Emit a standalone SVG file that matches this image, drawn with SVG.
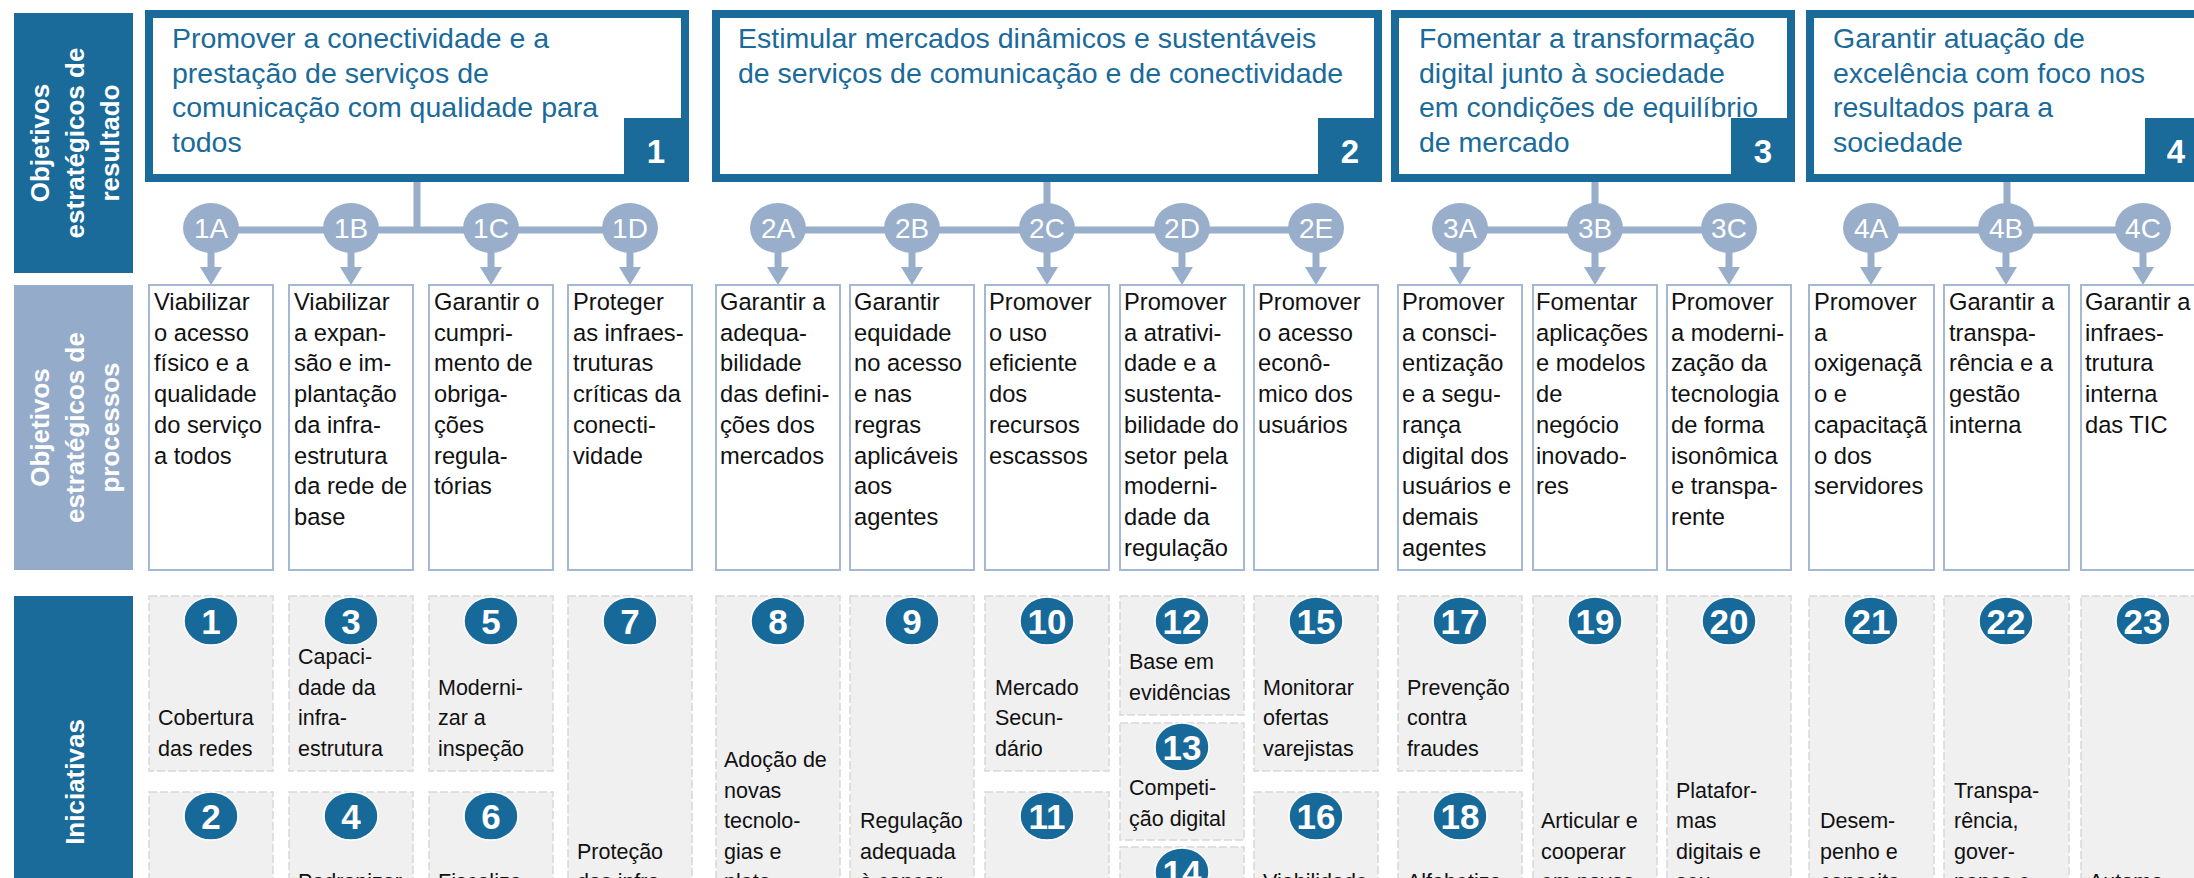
<svg xmlns="http://www.w3.org/2000/svg" width="2194" height="878" viewBox="0 0 2194 878">
<defs>
<style>
.hd{fill:#1A6A9A}
.hl{fill:#95ABCA}
.ht{font-family:"Liberation Sans",Arial,sans-serif;font-weight:bold;font-size:26px;fill:#fff;text-anchor:middle}
.tbox{fill:#fff;stroke:#1A6A9A;stroke-width:8}
.tab{fill:#1A6A9A}
.tt{font-family:"Liberation Sans",Arial,sans-serif;font-size:28.5px;fill:#1A6A9A}
.tn{font-family:"Liberation Sans",Arial,sans-serif;font-weight:bold;font-size:33px;fill:#fff;text-anchor:middle}
.oc{fill:#98AECB}
.ol{font-family:"Liberation Sans",Arial,sans-serif;font-size:28px;fill:#fff;text-anchor:middle}
.cn{stroke:#98AECB;stroke-width:7;fill:none}
.pb{fill:#fff;stroke:#A4B7D3;stroke-width:2}
.pt{font-family:"Liberation Sans",Arial,sans-serif;font-size:23.7px;fill:#111}
.ib{fill:#F0F0F0;stroke:#D8D8D8;stroke-width:1.5;stroke-dasharray:8 3}
.ic{fill:#17699A;stroke:#fff;stroke-width:1.5}
.in{font-family:"Liberation Sans",Arial,sans-serif;font-weight:bold;font-size:35px;fill:#fff;text-anchor:middle}
.it{font-family:"Liberation Sans",Arial,sans-serif;font-size:21.5px;fill:#111}
</style>
<marker id="ah" viewBox="0 0 18 22" markerWidth="18" markerHeight="22" refX="0" refY="11" orient="auto" markerUnits="userSpaceOnUse">
<path d="M0,0 L18,11 L0,22 z" fill="#98AECB"/>
</marker>
</defs>
<rect width="2194" height="878" fill="#fff"/>

<!-- Row headers -->
<g id="hdr-resultado">
<rect class="hd" x="14" y="13" width="119" height="260"/>
<text class="ht" transform="translate(73.5,143) rotate(-90)"><tspan x="0" y="-25">Objetivos</tspan><tspan x="0" y="10">estratégicos de</tspan><tspan x="0" y="45">resultado</tspan></text>
</g>
<g id="hdr-processos">
<rect class="hl" x="14" y="285" width="119" height="285"/>
<text class="ht" transform="translate(73.5,427.5) rotate(-90)"><tspan x="0" y="-25">Objetivos</tspan><tspan x="0" y="10">estratégicos de</tspan><tspan x="0" y="45">processos</tspan></text>
</g>
<g id="hdr-iniciativas">
<rect class="hd" x="14" y="596" width="119" height="380"/>
<text class="ht" transform="translate(73.5,782) rotate(-90)"><tspan x="0" y="10">Iniciativas</tspan></text>
</g>

<!-- Connectors -->
<g id="connectors">
<path class="cn" d="M417,182 V230 M211,230 H631"/>
<path class="cn" d="M1047,182 V230 M778,230 H1316"/>
<path class="cn" d="M1595,182 V230 M1460,230 H1729"/>
<path class="cn" d="M2007,182 V230 M1871,230 H2143"/>
<g class="cn" marker-end="url(#ah)">
<path d="M211,250 V267"/><path d="M351,250 V267"/><path d="M491,250 V267"/><path d="M630,250 V267"/>
<path d="M778,250 V267"/><path d="M912,250 V267"/><path d="M1047,250 V267"/><path d="M1182,250 V267"/><path d="M1316,250 V267"/>
<path d="M1460,250 V267"/><path d="M1595,250 V267"/><path d="M1729,250 V267"/>
<path d="M1871,250 V267"/><path d="M2006,250 V267"/><path d="M2143,250 V267"/>
</g>
</g>

<!-- Strategic result objectives -->
<g id="obj1">
<rect class="tbox" x="149" y="14" width="536" height="164"/>
<rect class="tab" x="624" y="118" width="65" height="64"/>
<text class="tt"><tspan x="172" y="48">Promover a conectividade e a</tspan><tspan x="172" y="82.5">prestação de serviços de</tspan><tspan x="172" y="117">comunicação com qualidade para</tspan><tspan x="172" y="151.5">todos</tspan></text>
<text class="tn" x="656" y="163">1</text>
</g>
<g id="obj2">
<rect class="tbox" x="716" y="14" width="662" height="164"/>
<rect class="tab" x="1318" y="118" width="64" height="64"/>
<text class="tt"><tspan x="738" y="48">Estimular mercados dinâmicos e sustentáveis</tspan><tspan x="738" y="82.5">de serviços de comunicação e de conectividade</tspan></text>
<text class="tn" x="1350" y="163">2</text>
</g>
<g id="obj3">
<rect class="tbox" x="1395" y="14" width="396" height="164"/>
<rect class="tab" x="1731" y="118" width="64" height="64"/>
<text class="tt"><tspan x="1419" y="48">Fomentar a transformação</tspan><tspan x="1419" y="82.5">digital junto à sociedade</tspan><tspan x="1419" y="117">em condições de equilíbrio</tspan><tspan x="1419" y="151.5">de mercado</tspan></text>
<text class="tn" x="1763" y="163">3</text>
</g>
<g id="obj4">
<rect class="tbox" x="1810" y="14" width="396" height="164"/>
<rect class="tab" x="2145" y="118" width="65" height="64"/>
<text class="tt"><tspan x="1833" y="48">Garantir atuação de</tspan><tspan x="1833" y="82.5">excelência com foco nos</tspan><tspan x="1833" y="117">resultados para a</tspan><tspan x="1833" y="151.5">sociedade</tspan></text>
<text class="tn" x="2176" y="163">4</text>
</g>

<!-- Sub-objective circles -->
<g id="c1A"><ellipse class="oc" cx="211" cy="228" rx="28" ry="25"/><text class="ol" x="211" y="238">1A</text></g>
<g id="c1B"><ellipse class="oc" cx="351" cy="228" rx="28" ry="25"/><text class="ol" x="351" y="238">1B</text></g>
<g id="c1C"><ellipse class="oc" cx="491" cy="228" rx="28" ry="25"/><text class="ol" x="491" y="238">1C</text></g>
<g id="c1D"><ellipse class="oc" cx="630" cy="228" rx="28" ry="25"/><text class="ol" x="630" y="238">1D</text></g>
<g id="c2A"><ellipse class="oc" cx="778" cy="228" rx="28" ry="25"/><text class="ol" x="778" y="238">2A</text></g>
<g id="c2B"><ellipse class="oc" cx="912" cy="228" rx="28" ry="25"/><text class="ol" x="912" y="238">2B</text></g>
<g id="c2C"><ellipse class="oc" cx="1047" cy="228" rx="28" ry="25"/><text class="ol" x="1047" y="238">2C</text></g>
<g id="c2D"><ellipse class="oc" cx="1182" cy="228" rx="28" ry="25"/><text class="ol" x="1182" y="238">2D</text></g>
<g id="c2E"><ellipse class="oc" cx="1316" cy="228" rx="28" ry="25"/><text class="ol" x="1316" y="238">2E</text></g>
<g id="c3A"><ellipse class="oc" cx="1460" cy="228" rx="28" ry="25"/><text class="ol" x="1460" y="238">3A</text></g>
<g id="c3B"><ellipse class="oc" cx="1595" cy="228" rx="28" ry="25"/><text class="ol" x="1595" y="238">3B</text></g>
<g id="c3C"><ellipse class="oc" cx="1729" cy="228" rx="28" ry="25"/><text class="ol" x="1729" y="238">3C</text></g>
<g id="c4A"><ellipse class="oc" cx="1871" cy="228" rx="28" ry="25"/><text class="ol" x="1871" y="238">4A</text></g>
<g id="c4B"><ellipse class="oc" cx="2006" cy="228" rx="28" ry="25"/><text class="ol" x="2006" y="238">4B</text></g>
<g id="c4C"><ellipse class="oc" cx="2143" cy="228" rx="28" ry="25"/><text class="ol" x="2143" y="238">4C</text></g>

<!-- Process objectives -->
<g id="p1A"><rect class="pb" x="149" y="285" width="124" height="285"/>
<text class="pt"><tspan x="154" y="310">Viabilizar</tspan><tspan x="154" y="340.7">o acesso</tspan><tspan x="154" y="371.4">físico e a</tspan><tspan x="154" y="402.1">qualidade</tspan><tspan x="154" y="432.8">do serviço</tspan><tspan x="154" y="463.5">a todos</tspan></text></g>
<g id="p1B"><rect class="pb" x="289" y="285" width="124" height="285"/>
<text class="pt"><tspan x="294" y="310">Viabilizar</tspan><tspan x="294" y="340.7">a expan-</tspan><tspan x="294" y="371.4">são e im-</tspan><tspan x="294" y="402.1">plantação</tspan><tspan x="294" y="432.8">da infra-</tspan><tspan x="294" y="463.5">estrutura</tspan><tspan x="294" y="494.2">da rede de</tspan><tspan x="294" y="524.9">base</tspan></text></g>
<g id="p1C"><rect class="pb" x="429" y="285" width="124" height="285"/>
<text class="pt"><tspan x="434" y="310">Garantir o</tspan><tspan x="434" y="340.7">cumpri-</tspan><tspan x="434" y="371.4">mento de</tspan><tspan x="434" y="402.1">obriga-</tspan><tspan x="434" y="432.8">ções</tspan><tspan x="434" y="463.5">regula-</tspan><tspan x="434" y="494.2">tórias</tspan></text></g>
<g id="p1D"><rect class="pb" x="568" y="285" width="124" height="285"/>
<text class="pt"><tspan x="573" y="310">Proteger</tspan><tspan x="573" y="340.7">as infraes-</tspan><tspan x="573" y="371.4">truturas</tspan><tspan x="573" y="402.1">críticas da</tspan><tspan x="573" y="432.8">conecti-</tspan><tspan x="573" y="463.5">vidade</tspan></text></g>
<g id="p2A"><rect class="pb" x="716" y="285" width="124" height="285"/>
<text class="pt"><tspan x="720" y="310">Garantir a</tspan><tspan x="720" y="340.7">adequa-</tspan><tspan x="720" y="371.4">bilidade</tspan><tspan x="720" y="402.1">das defini-</tspan><tspan x="720" y="432.8">ções dos</tspan><tspan x="720" y="463.5">mercados</tspan></text></g>
<g id="p2B"><rect class="pb" x="850" y="285" width="124" height="285"/>
<text class="pt"><tspan x="854" y="310">Garantir</tspan><tspan x="854" y="340.7">equidade</tspan><tspan x="854" y="371.4">no acesso</tspan><tspan x="854" y="402.1">e nas</tspan><tspan x="854" y="432.8">regras</tspan><tspan x="854" y="463.5">aplicáveis</tspan><tspan x="854" y="494.2">aos</tspan><tspan x="854" y="524.9">agentes</tspan></text></g>
<g id="p2C"><rect class="pb" x="985" y="285" width="124" height="285"/>
<text class="pt"><tspan x="989" y="310">Promover</tspan><tspan x="989" y="340.7">o uso</tspan><tspan x="989" y="371.4">eficiente</tspan><tspan x="989" y="402.1">dos</tspan><tspan x="989" y="432.8">recursos</tspan><tspan x="989" y="463.5">escassos</tspan></text></g>
<g id="p2D"><rect class="pb" x="1120" y="285" width="124" height="285"/>
<text class="pt"><tspan x="1124" y="310">Promover</tspan><tspan x="1124" y="340.7">a atrativi-</tspan><tspan x="1124" y="371.4">dade e a</tspan><tspan x="1124" y="402.1">sustenta-</tspan><tspan x="1124" y="432.8">bilidade do</tspan><tspan x="1124" y="463.5">setor pela</tspan><tspan x="1124" y="494.2">moderni-</tspan><tspan x="1124" y="524.9">dade da</tspan><tspan x="1124" y="555.6">regulação</tspan></text></g>
<g id="p2E"><rect class="pb" x="1254" y="285" width="124" height="285"/>
<text class="pt"><tspan x="1258" y="310">Promover</tspan><tspan x="1258" y="340.7">o acesso</tspan><tspan x="1258" y="371.4">econô-</tspan><tspan x="1258" y="402.1">mico dos</tspan><tspan x="1258" y="432.8">usuários</tspan></text></g>
<g id="p3A"><rect class="pb" x="1398" y="285" width="124" height="285"/>
<text class="pt"><tspan x="1402" y="310">Promover</tspan><tspan x="1402" y="340.7">a consci-</tspan><tspan x="1402" y="371.4">entização</tspan><tspan x="1402" y="402.1">e a segu-</tspan><tspan x="1402" y="432.8">rança</tspan><tspan x="1402" y="463.5">digital dos</tspan><tspan x="1402" y="494.2">usuários e</tspan><tspan x="1402" y="524.9">demais</tspan><tspan x="1402" y="555.6">agentes</tspan></text></g>
<g id="p3B"><rect class="pb" x="1533" y="285" width="124" height="285"/>
<text class="pt"><tspan x="1536" y="310">Fomentar</tspan><tspan x="1536" y="340.7">aplicações</tspan><tspan x="1536" y="371.4">e modelos</tspan><tspan x="1536" y="402.1">de</tspan><tspan x="1536" y="432.8">negócio</tspan><tspan x="1536" y="463.5">inovado-</tspan><tspan x="1536" y="494.2">res</tspan></text></g>
<g id="p3C"><rect class="pb" x="1667" y="285" width="124" height="285"/>
<text class="pt"><tspan x="1671" y="310">Promover</tspan><tspan x="1671" y="340.7">a moderni-</tspan><tspan x="1671" y="371.4">zação da</tspan><tspan x="1671" y="402.1">tecnologia</tspan><tspan x="1671" y="432.8">de forma</tspan><tspan x="1671" y="463.5">isonômica</tspan><tspan x="1671" y="494.2">e transpa-</tspan><tspan x="1671" y="524.9">rente</tspan></text></g>
<g id="p4A"><rect class="pb" x="1809" y="285" width="125" height="285"/>
<text class="pt"><tspan x="1814" y="310">Promover</tspan><tspan x="1814" y="340.7">a</tspan><tspan x="1814" y="371.4">oxigenaçã</tspan><tspan x="1814" y="402.1">o e</tspan><tspan x="1814" y="432.8">capacitaçã</tspan><tspan x="1814" y="463.5">o dos</tspan><tspan x="1814" y="494.2">servidores</tspan></text></g>
<g id="p4B"><rect class="pb" x="1944" y="285" width="125" height="285"/>
<text class="pt"><tspan x="1949" y="310">Garantir a</tspan><tspan x="1949" y="340.7">transpa-</tspan><tspan x="1949" y="371.4">rência e a</tspan><tspan x="1949" y="402.1">gestão</tspan><tspan x="1949" y="432.8">interna</tspan></text></g>
<g id="p4C"><rect class="pb" x="2081" y="285" width="125" height="285"/>
<text class="pt"><tspan x="2085" y="310">Garantir a</tspan><tspan x="2085" y="340.7">infraes-</tspan><tspan x="2085" y="371.4">trutura</tspan><tspan x="2085" y="402.1">interna</tspan><tspan x="2085" y="432.8">das TIC</tspan></text></g>

<!-- Initiatives -->
<g id="i1"><rect class="ib" x="149" y="596" width="124" height="175"/><ellipse class="ic" cx="211" cy="621" rx="27" ry="24"/><text class="in" x="211" y="634">1</text>
<text class="it"><tspan x="158" y="725">Cobertura</tspan><tspan x="158" y="755.5">das redes</tspan></text></g>
<g id="i2"><rect class="ib" x="149" y="792" width="124" height="190"/><ellipse class="ic" cx="211" cy="816" rx="27" ry="24"/><text class="in" x="211" y="829">2</text></g>
<g id="i3"><rect class="ib" x="289" y="596" width="124" height="175"/><ellipse class="ic" cx="351" cy="621" rx="27" ry="24"/><text class="in" x="351" y="634">3</text>
<text class="it"><tspan x="298" y="664">Capaci-</tspan><tspan x="298" y="694.5">dade da</tspan><tspan x="298" y="725">infra-</tspan><tspan x="298" y="755.5">estrutura</tspan></text></g>
<g id="i4"><rect class="ib" x="289" y="792" width="124" height="190"/><ellipse class="ic" cx="351" cy="816" rx="27" ry="24"/><text class="in" x="351" y="829">4</text>
<text class="it"><tspan x="298" y="889">Padronizar</tspan></text></g>
<g id="i5"><rect class="ib" x="429" y="596" width="124" height="175"/><ellipse class="ic" cx="491" cy="621" rx="27" ry="24"/><text class="in" x="491" y="634">5</text>
<text class="it"><tspan x="438" y="694.5">Moderni-</tspan><tspan x="438" y="725">zar a</tspan><tspan x="438" y="755.5">inspeção</tspan></text></g>
<g id="i6"><rect class="ib" x="429" y="792" width="124" height="190"/><ellipse class="ic" cx="491" cy="816" rx="27" ry="24"/><text class="in" x="491" y="829">6</text>
<text class="it"><tspan x="438" y="889">Fiscaliza-</tspan></text></g>
<g id="i7"><rect class="ib" x="568" y="596" width="124" height="386"/><ellipse class="ic" cx="630" cy="621" rx="27" ry="24"/><text class="in" x="630" y="634">7</text>
<text class="it"><tspan x="577" y="858.5">Proteção</tspan><tspan x="577" y="889">das infra-</tspan></text></g>
<g id="i8"><rect class="ib" x="716" y="596" width="124" height="386"/><ellipse class="ic" cx="778" cy="621" rx="27" ry="24"/><text class="in" x="778" y="634">8</text>
<text class="it"><tspan x="724" y="767">Adoção de</tspan><tspan x="724" y="797.5">novas</tspan><tspan x="724" y="828">tecnolo-</tspan><tspan x="724" y="858.5">gias e</tspan><tspan x="724" y="889">plata-</tspan></text></g>
<g id="i9"><rect class="ib" x="850" y="596" width="124" height="386"/><ellipse class="ic" cx="912" cy="621" rx="27" ry="24"/><text class="in" x="912" y="634">9</text>
<text class="it"><tspan x="860" y="828">Regulação</tspan><tspan x="860" y="858.5">adequada</tspan><tspan x="860" y="889">à concor-</tspan></text></g>
<g id="i10"><rect class="ib" x="985" y="596" width="124" height="175"/><ellipse class="ic" cx="1047" cy="621" rx="27" ry="24"/><text class="in" x="1047" y="634">10</text>
<text class="it"><tspan x="995" y="694.5">Mercado</tspan><tspan x="995" y="725">Secun-</tspan><tspan x="995" y="755.5">dário</tspan></text></g>
<g id="i11"><rect class="ib" x="985" y="792" width="124" height="190"/><ellipse class="ic" cx="1047" cy="816" rx="27" ry="24"/><text class="in" x="1047" y="829">11</text></g>
<g id="i12"><rect class="ib" x="1120" y="596" width="124" height="119"/><ellipse class="ic" cx="1182" cy="621" rx="27" ry="24"/><text class="in" x="1182" y="634">12</text>
<text class="it"><tspan x="1129" y="669">Base em</tspan><tspan x="1129" y="699.5">evidências</tspan></text></g>
<g id="i13"><rect class="ib" x="1120" y="723" width="124" height="117"/><ellipse class="ic" cx="1182" cy="747" rx="27" ry="24"/><text class="in" x="1182" y="760">13</text>
<text class="it"><tspan x="1129" y="795">Competi-</tspan><tspan x="1129" y="825.5">ção digital</tspan></text></g>
<g id="i14"><rect class="ib" x="1120" y="847" width="124" height="135"/><ellipse class="ic" cx="1182" cy="872" rx="27" ry="24"/><text class="in" x="1182" y="885">14</text></g>
<g id="i15"><rect class="ib" x="1254" y="596" width="124" height="175"/><ellipse class="ic" cx="1316" cy="621" rx="27" ry="24"/><text class="in" x="1316" y="634">15</text>
<text class="it"><tspan x="1263" y="694.5">Monitorar</tspan><tspan x="1263" y="725">ofertas</tspan><tspan x="1263" y="755.5">varejistas</tspan></text></g>
<g id="i16"><rect class="ib" x="1254" y="792" width="124" height="190"/><ellipse class="ic" cx="1316" cy="816" rx="27" ry="24"/><text class="in" x="1316" y="829">16</text>
<text class="it"><tspan x="1263" y="889">Viabilidade</tspan></text></g>
<g id="i17"><rect class="ib" x="1398" y="596" width="124" height="175"/><ellipse class="ic" cx="1460" cy="621" rx="27" ry="24"/><text class="in" x="1460" y="634">17</text>
<text class="it"><tspan x="1407" y="694.5">Prevenção</tspan><tspan x="1407" y="725">contra</tspan><tspan x="1407" y="755.5">fraudes</tspan></text></g>
<g id="i18"><rect class="ib" x="1398" y="792" width="124" height="190"/><ellipse class="ic" cx="1460" cy="816" rx="27" ry="24"/><text class="in" x="1460" y="829">18</text>
<text class="it"><tspan x="1407" y="889">Alfabetiza-</tspan></text></g>
<g id="i19"><rect class="ib" x="1533" y="596" width="124" height="386"/><ellipse class="ic" cx="1595" cy="621" rx="27" ry="24"/><text class="in" x="1595" y="634">19</text>
<text class="it"><tspan x="1541" y="828">Articular e</tspan><tspan x="1541" y="858.5">cooperar</tspan><tspan x="1541" y="889">em novos</tspan></text></g>
<g id="i20"><rect class="ib" x="1667" y="596" width="124" height="386"/><ellipse class="ic" cx="1729" cy="621" rx="27" ry="24"/><text class="in" x="1729" y="634">20</text>
<text class="it"><tspan x="1676" y="797.5">Platafor-</tspan><tspan x="1676" y="828">mas</tspan><tspan x="1676" y="858.5">digitais e</tspan><tspan x="1676" y="889">seu</tspan></text></g>
<g id="i21"><rect class="ib" x="1809" y="596" width="125" height="386"/><ellipse class="ic" cx="1871" cy="621" rx="27" ry="24"/><text class="in" x="1871" y="634">21</text>
<text class="it"><tspan x="1820" y="828">Desem-</tspan><tspan x="1820" y="858.5">penho e</tspan><tspan x="1820" y="889">capacita-</tspan></text></g>
<g id="i22"><rect class="ib" x="1944" y="596" width="125" height="386"/><ellipse class="ic" cx="2006" cy="621" rx="27" ry="24"/><text class="in" x="2006" y="634">22</text>
<text class="it"><tspan x="1954" y="797.5">Transpa-</tspan><tspan x="1954" y="828">rência,</tspan><tspan x="1954" y="858.5">gover-</tspan><tspan x="1954" y="889">nança e</tspan></text></g>
<g id="i23"><rect class="ib" x="2081" y="596" width="125" height="386"/><ellipse class="ic" cx="2143" cy="621" rx="27" ry="24"/><text class="in" x="2143" y="634">23</text>
<text class="it"><tspan x="2089" y="889">Automa-</tspan></text></g>
</svg>
